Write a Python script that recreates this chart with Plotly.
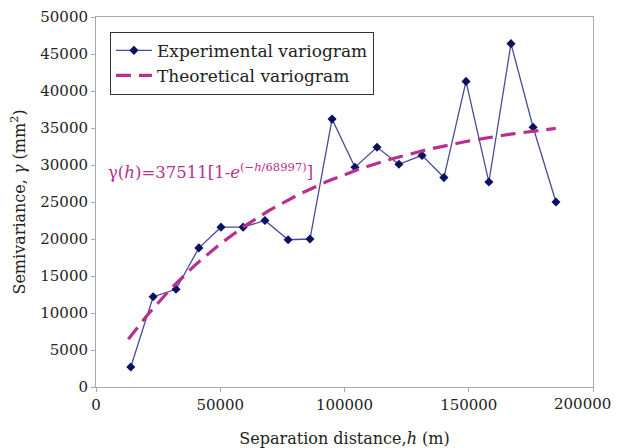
import numpy as np
import plotly.graph_objects as go

# Experimental semivariogram: lag distance (m) and semivariance (mm^2)
lag_h = [14000, 23000, 32200, 41400, 50300, 59200, 68000, 77300, 86100, 95000,
         104200, 113100, 121900, 131200, 140000, 148900, 158100, 167000, 175900, 185100]
gamma_exp = [2700, 12200, 13200, 18800, 21600, 21600, 22500, 19900, 20000, 36200,
             29700, 32400, 30100, 31300, 28300, 41300, 27700, 46400, 35100, 25000]

# Fitted exponential model parameters (sill, range)
sill = 37511
range_a = 68997
model_h = np.linspace(13000, 185000, 120)
model_gamma = sill * (1 - np.exp(-model_h / range_a))

x_ticks = [0, 50000, 100000, 150000, 200000]
y_ticks = list(range(0, 50001, 5000))

# the last x label is drawn separately, right-aligned so it stays on the page
x_ticktext = [str(v) for v in x_ticks[:-1]] + [""]
last_x_label = str(x_ticks[-1])

serif = "DejaVu Serif"
axis_color = "#a9a9a9"
text_color = "#222222"

fig = go.Figure()
fig.add_trace(go.Scatter(
    x=lag_h, y=gamma_exp, mode="lines+markers",
    name="Experimental variogram",
    line=dict(color="#4b4b9c", width=1.3),
    marker=dict(symbol="diamond", size=7, color="#0b1060"),
))
fig.add_trace(go.Scatter(
    x=model_h, y=model_gamma, mode="lines",
    name="Theoretical variogram",
    line=dict(color="#b8308f", width=3.2, dash="15px,8px"),
))

fig.add_annotation(
    x=4000, y=29200, xref="x", yref="y", xanchor="left", yanchor="middle",
    text="γ(<i>h</i>)=37511[1-<i>e</i><sup>(−<i>h</i>/68997)</sup>]",
    showarrow=False, font=dict(family=serif, size=16.5, color="#b8308f"),
)
fig.add_annotation(
    x=x_ticks[-1], y=0, xref="x", yref="paper", xanchor="right", yanchor="top",
    xshift=20, yshift=-6, text=last_x_label, showarrow=False,
    font=dict(family=serif, size=15, color=text_color),
)

fig.update_layout(
    width=617, height=448,
    margin=dict(l=96, r=24, t=17, b=61, autoexpand=False),
    paper_bgcolor="white", plot_bgcolor="white",
    font=dict(family=serif, size=15, color=text_color),
    showlegend=True,
    legend=dict(
        x=0.028, y=0.96, xanchor="left", yanchor="top",
        bordercolor="#333333", borderwidth=1, bgcolor="white",
        font=dict(family=serif, size=17, color=text_color),
        tracegroupgap=0, itemwidth=36,
    ),
    xaxis=dict(
        range=[0, 200000], tickvals=x_ticks, ticktext=x_ticktext,
        showgrid=False, zeroline=False, showline=True, linecolor=axis_color,
        linewidth=1, mirror=True, ticks="outside", ticklen=4, tickcolor=axis_color,
        automargin=False,
        tickfont=dict(family=serif, size=15, color=text_color),
        title=dict(text="Separation distance,<i>h</i> (m)", standoff=22,
                   font=dict(family=serif, size=16, color=text_color)),
    ),
    yaxis=dict(
        range=[0, 50000], tickvals=y_ticks, ticktext=[str(v) for v in y_ticks],
        showgrid=False, zeroline=False, showline=True, linecolor=axis_color,
        linewidth=1, mirror=True, ticks="outside", ticklen=4, tickcolor=axis_color,
        automargin=False,
        tickfont=dict(family=serif, size=15, color=text_color),
        title=dict(text="Semivariance, <i>γ</i> (mm<sup>2</sup>)", standoff=10,
                   font=dict(family=serif, size=16, color=text_color)),
    ),
)

fig.write_html("out.html")
